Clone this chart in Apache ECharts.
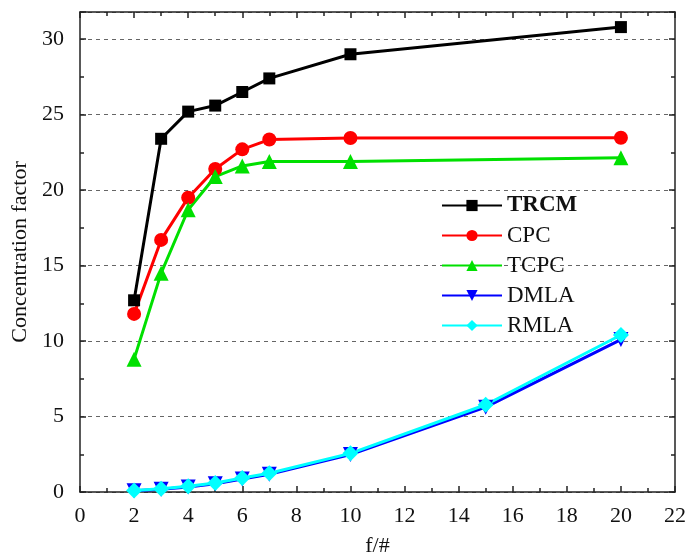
<!DOCTYPE html>
<html>
<head>
<meta charset="utf-8">
<script src="https://cdn.jsdelivr.net/npm/echarts@6/dist/echarts.min.js"></script>
<style>
  html, body { margin: 0; padding: 0; background: #fff; }
  #chart { width: 688px; height: 557px; }
</style>
</head>
<body>
<div id="chart"></div>
<script>
// values
const xTrcm = [2, 3, 4, 5, 6, 7, 10, 20];
const trcm = [12.7, 23.4, 25.2, 25.6, 26.5, 27.4, 29.0, 30.8];
const cpc = [11.8, 16.7, 19.5, 21.4, 22.7, 23.35, 23.45, 23.47];
const tcpc = [8.8, 14.5, 18.7, 20.9, 21.6, 21.9, 21.9, 22.15];
const xMla = [2, 3, 4, 5, 6, 7, 10, 15, 20];
const dmla = [0.08, 0.18, 0.33, 0.55, 0.86, 1.18, 2.48, 5.62, 10.1];
const rmla = [0.1, 0.22, 0.38, 0.6, 0.93, 1.24, 2.56, 5.78, 10.4];

const font = '"Liberation Serif", "Times New Roman", serif';

function pairs(xs, ys) {
  return xs.map((x, i) => [x, ys[i]]);
}

function mkSeries(name, xs, ys, color, symbol, size) {
  return {
    name: name,
    type: 'line',
    data: pairs(xs, ys),
    symbol: symbol,
    symbolSize: size,
    lineStyle: { color: color, width: 3 },
    itemStyle: { color: color },
    z: 3
  };
}

const tickStyle = { show: true, inside: true, length: 6, lineStyle: { color: '#222', width: 1.5 } };
const minorStyle = { show: true, splitNumber: 2, length: 4, lineStyle: { color: '#222', width: 1.5 } };
const lineStyle = { show: true, onZero: false, lineStyle: { color: '#222', width: 1.5 } };

const chart = echarts.init(document.getElementById('chart'));
chart.setOption({
  animation: false,
  backgroundColor: '#fff',
  grid: { left: 80, right: 13, top: 12, bottom: 65, outerBoundsMode: 'none', containLabel: false },
  legend: {
    orient: 'vertical',
    left: 436,
    top: 189,
    itemWidth: 60,
    itemHeight: 14,
    itemGap: 7,
    textStyle: { fontFamily: font, fontSize: 23, color: '#111' },
    data: [
      { name: 'TRCM', textStyle: { fontWeight: 'bold' } },
      'CPC', 'TCPC', 'DMLA', 'RMLA'
    ]
  },
  xAxis: [
    {
      type: 'value', min: 0, max: 22, interval: 2,
      name: 'f/#', nameLocation: 'middle', nameGap: 43,
      nameTextStyle: { fontFamily: font, fontSize: 22, color: '#111' },
      axisLine: lineStyle,
      axisTick: tickStyle,
      minorTick: minorStyle,
      axisLabel: { fontFamily: font, fontSize: 22, color: '#111', margin: 13 },
      splitLine: { show: false }
    },
    {
      type: 'value', min: 0, max: 22, interval: 2, position: 'top',
      axisLine: lineStyle,
      axisTick: tickStyle,
      minorTick: minorStyle,
      axisLabel: { show: false },
      splitLine: { show: false }
    }
  ],
  yAxis: [
    {
      type: 'value', min: 0, max: 31.8, interval: 5,
      name: 'Concentration factor', nameLocation: 'middle', nameGap: 49,
      nameTextStyle: { fontFamily: font, fontSize: 22, color: '#111' },
      axisLine: lineStyle,
      axisTick: tickStyle,
      minorTick: minorStyle,
      axisLabel: {
        fontFamily: font, fontSize: 22, color: '#111', margin: 16,
        formatter: v => (v % 5 === 0 ? String(v) : '')
      },
      splitLine: { show: true, lineStyle: { color: '#666', type: [4, 4], width: 1 } }
    },
    {
      type: 'value', min: 0, max: 31.8, interval: 5, position: 'right',
      axisLine: lineStyle,
      axisTick: tickStyle,
      minorTick: minorStyle,
      axisLabel: { show: false },
      splitLine: { show: false }
    }
  ],
  series: [
    mkSeries('TRCM', xTrcm, trcm, '#000000', 'rect', 12),
    mkSeries('CPC', xTrcm, cpc, '#ff0000', 'circle', 14),
    mkSeries('TCPC', xTrcm, tcpc, '#00e000', 'triangle', 15),
    Object.assign(mkSeries('DMLA', xMla, dmla, '#0000ff', 'triangle', 15), { symbolRotate: 180 }),
    mkSeries('RMLA', xMla, rmla, '#00ffff', 'diamond', 16)
  ]
});
</script>
</body>
</html>
